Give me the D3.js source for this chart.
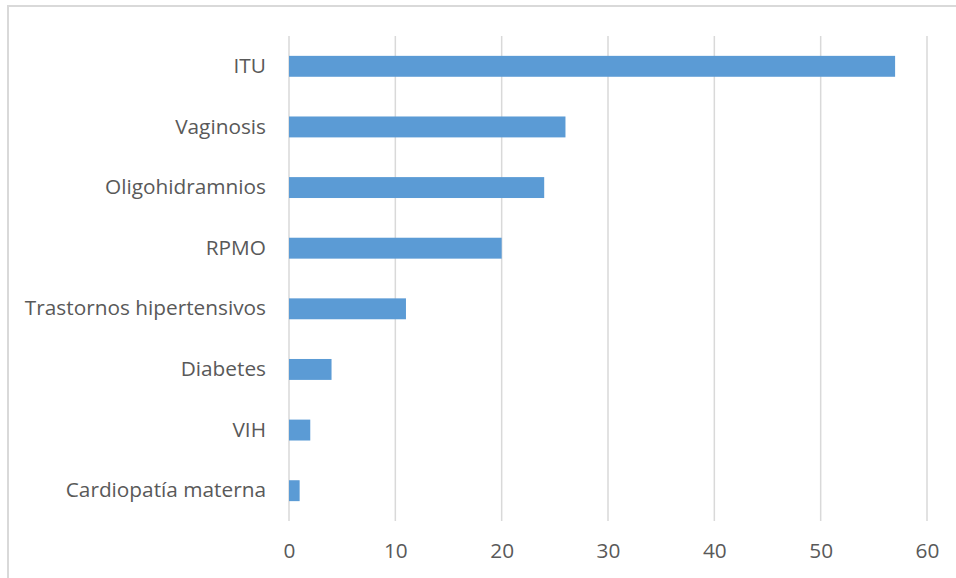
<!DOCTYPE html>
<html>
<head>
<meta charset="utf-8">
<script src="https://cdn.jsdelivr.net/npm/d3@7/dist/d3.min.js"></script>
<style>
  html, body { margin: 0; padding: 0; background: #fff; }
  svg { display: block; }
  text { font-family: "Open Sans", sans-serif; fill: #595959; }
</style>
</head>
<body>
<svg id="chart" width="956" height="578"></svg>
<script>
// Complicaciones maternas (número de casos)
const categories = ["ITU", "Vaginosis", "Oligohidramnios", "RPMO",
  "Trastornos hipertensivos", "Diabetes", "VIH", "Cardiopatía materna"];
const values = [57, 26, 24, 20, 11, 4, 2, 1];
const xTicks = [0, 10, 20, 30, 40, 50, 60];

const svg = d3.select("#chart");
const plot = { left: 289, right: 927, top: 36, bottom: 521 };
const labelFont = "'Open Sans', sans-serif";

// chart frame (clipped by the page edge at right and bottom)
svg.append("rect")
  .attr("x", 8).attr("y", 6)
  .attr("width", 1000).attr("height", 700)
  .attr("fill", "none").attr("stroke", "#d9d9d9").attr("stroke-width", 2);

const x = d3.scaleLinear().domain([0, 60]).range([plot.left, plot.right]);
const y = d3.scaleBand().domain(categories).range([plot.top, plot.bottom]).paddingInner(0.655).paddingOuter(0.3275);

// vertical gridlines
svg.append("g").selectAll("line").data(xTicks).join("line")
  .attr("x1", d => x(d)).attr("x2", d => x(d))
  .attr("y1", plot.top).attr("y2", plot.bottom)
  .attr("stroke", "#d9d9d9").attr("stroke-width", 1.5);

// bars
svg.append("g").selectAll("rect").data(values).join("rect")
  .attr("x", x(0))
  .attr("y", (d, i) => y(categories[i]))
  .attr("width", d => x(d) - x(0))
  .attr("height", y.bandwidth())
  .attr("fill", "#5b9bd5");

// category labels
const yAxis = d3.axisLeft(y).tickSize(0).tickPadding(23);
const gy = svg.append("g").attr("transform", `translate(${plot.left},0)`).call(yAxis);
gy.select(".domain").remove();
gy.selectAll("text").style("font-size", "20.8px").attr("fill", "#595959")
  .style("font-family", labelFont);

// value axis labels
const xAxis = d3.axisBottom(x).tickValues(xTicks).tickSize(0).tickPadding(22);
const gx = svg.append("g").attr("transform", `translate(0,${plot.bottom})`).call(xAxis);
gx.select(".domain").remove();
gx.selectAll("text").style("font-size", "20.8px").attr("fill", "#595959")
  .style("font-family", labelFont);
</script>
</body>
</html>
